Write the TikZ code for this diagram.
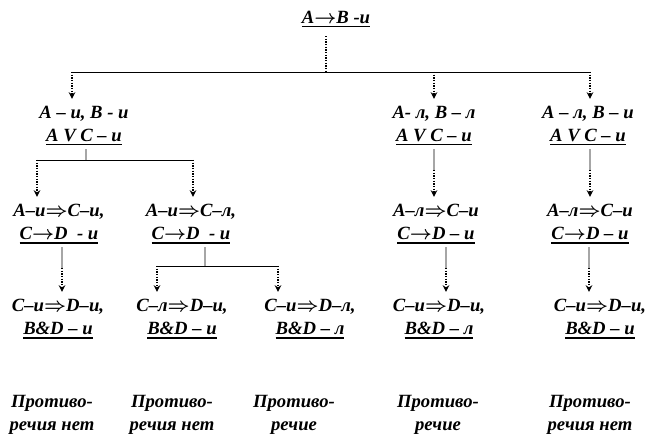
\documentclass[tikz,border=0pt]{standalone}
\usepackage{fontspec}
\setmainfont{Liberation Serif}
\usetikzlibrary{arrows.meta}
\newsavebox{\ulbox}
\newcommand{\uln}[1]{\sbox{\ulbox}{#1}\rlap{\rule[-3pt]{\wd\ulbox}{1.1pt}}\usebox{\ulbox}}

\begin{document}
\begin{tikzpicture}[x=0.75pt,y=-0.75pt,
  stmt/.style={align=center,inner sep=0.5pt,
    font=\fontsize{14}{17}\selectfont\bfseries\itshape\boldmath},
  stem/.style={gray!70,line width=1pt,shorten <=2pt},
  bar/.style={line width=0.7pt},
  drop/.style={densely dotted,line width=1pt,shorten >=5pt,
    -{Stealth[length=5pt,width=5pt]}}]
  \useasboundingbox (0,0) rectangle (664,448);
  % statements
  \node[stmt] (root) at (336,19) {\uln{A$\rightarrow$B -и}};
  \node[stmt] (n1) at (84,126) {A – и, B - и\\\uln{A V C – и}};
  \node[stmt] (n2) at (434,126) {A- л, B – л\\\uln{A V C – и}};
  \node[stmt] (n3) at (588,126) {A – л, B – и\\\uln{A V C – и}};
  \node[stmt] (m1) at (59,224) {A–и$\Rightarrow$C–и,\\\uln{C$\rightarrow$D \ - и}};
  \node[stmt] (m2) at (191,224) {A–и$\Rightarrow$C–л,\\\uln{C$\rightarrow$D \ - и}};
  \node[stmt] (m3) at (436,224) {A–л$\Rightarrow$C–и\\\uln{C$\rightarrow$D – и}};
  \node[stmt] (m4) at (590,224) {A–л$\Rightarrow$C–и\\\uln{C$\rightarrow$D – и}};
  \node[stmt] (k1) at (58,319) {C–и$\Rightarrow$D–и,\\\uln{B\&D – и}};
  \node[stmt] (k2) at (182,319) {C–л$\Rightarrow$D–и,\\\uln{B\&D – и}};
  \node[stmt] (k3) at (310,319) {C–и$\Rightarrow$D–л,\\\uln{B\&D – л}};
  \node[stmt] (k4) at (439,319) {C–и$\Rightarrow$D–и,\\\uln{B\&D – л}};
  \node[stmt] (k5) at (600,319) {C–и$\Rightarrow$D–и,\\\uln{B\&D – и}};
  % verdicts
  \node[stmt] (c1) at (52,415) {Противо-\\речия нет};
  \node[stmt] (c2) at (172,415) {Противо-\\речия нет};
  \node[stmt] (c3) at (294,415) {Противо-\\речие};
  \node[stmt] (c4) at (438,415) {Противо-\\речие};
  \node[stmt] (c5) at (590,415) {Противо-\\речия нет};
  % branch points
  \coordinate (r0) at (326,72);
  \coordinate (rl) at (72,72);
  \coordinate (rr) at (590,72);
  \coordinate (b1) at (86,160);
  \coordinate (bl) at (37,160);
  \coordinate (br) at (193,160);
  \coordinate (b2) at (205,266);
  \coordinate (dl) at (157,266);
  \coordinate (dr) at (278,266);
  \coordinate (s2) at (434,170);
  \coordinate (s3) at (590,170);
  \coordinate (t1) at (62,268);
  \coordinate (t3) at (446,268);
  \coordinate (t4) at (589,268);
  % root -> n1, n2, n3
  \draw[densely dotted,line width=1pt,shorten <=6pt] (root.south -| r0) -- (r0);
  \draw[bar] (rl) -- (rr);
  \draw[drop] (rl) -- (rl |- n1.north);
  \draw[drop] (r0 -| n2) -- (n2.north);
  \draw[drop] (rr) -- (rr |- n3.north);
  % n1 -> m1, m2
  \draw[stem] (n1.south -| b1) -- (b1);
  \draw[bar] (bl) -- (br);
  \draw[drop] (bl) -- (bl |- m1.north);
  \draw[drop] (br) -- (br |- m2.north);
  % n2 -> m3, n3 -> m4
  \draw[stem] (n2.south -| s2) -- (s2);
  \draw[drop] (s2) -- (s2 |- m3.north);
  \draw[stem] (n3.south -| s3) -- (s3);
  \draw[drop] (s3) -- (s3 |- m4.north);
  % m1 -> k1
  \draw[stem] (m1.south -| t1) -- (t1);
  \draw[drop] (t1) -- (t1 |- k1.north);
  % m2 -> k2, k3
  \draw[stem] (m2.south -| b2) -- (b2);
  \draw[bar] (dl) -- (dr);
  \draw[drop] (dl) -- (dl |- k2.north);
  \draw[drop] (dr) -- (dr |- k3.north);
  % m3 -> k4, m4 -> k5
  \draw[stem] (m3.south -| t3) -- (t3);
  \draw[drop] (t3) -- (t3 |- k4.north);
  \draw[stem] (m4.south -| t4) -- (t4);
  \draw[drop] (t4) -- (t4 |- k5.north);
\end{tikzpicture}
\end{document}
